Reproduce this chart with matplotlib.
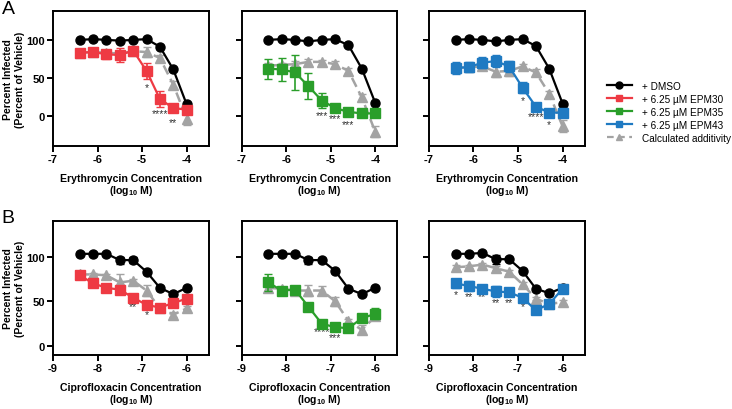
import numpy as np
import matplotlib
matplotlib.use("Agg")
import matplotlib.pyplot as plt

plt.rcParams['font.family'] = ['Liberation Sans', 'DejaVu Sans']
plt.rcParams['mathtext.fontset'] = 'custom'
plt.rcParams['mathtext.bf'] = 'Liberation Sans:bold'
plt.rcParams['mathtext.rm'] = 'Liberation Sans'
plt.rcParams['mathtext.default'] = 'bf'
plt.rcParams['axes.unicode_minus'] = False

# concentrations (log10 M)
ery_x = [-6.4, -6.1, -5.8, -5.5, -5.2, -4.9, -4.6, -4.3, -4.0]
cip_x = [-8.4, -8.1, -7.8, -7.5, -7.2, -6.9, -6.6, -6.3, -6.0]

# row A: erythromycin
a1_dmso = [100, 101, 100, 99, 100, 101, 91, 61, 15]
a1_drug = [83, 84, 81, 80, 86, 59, 22, 10, 8]
a1_drug_err = [5, 4, 6, 9, 4, 10, 10, 5, 5]
a1_add = [83, 84, 83, 82, 85, 84, 76, 41, -4]
a1_add_err = [3, 3, 3, 3, 3, 6, 4, 5, 8]
a1_stars = [(-4.9, '*'), (-4.6, '****'), (-4.3, '**')]
a1_star_y = [38, 4, -8]

a2_dmso = [100, 101, 100, 98, 100, 101, 93, 62, 17]
a2_drug = [62, 61, 57, 39, 20, 10, 5, 3, 3]
a2_drug_err = [13, 15, 23, 17, 10, 3, 2, 2, 3]
a2_add = [66, 67, 68, 71, 71, 68, 59, 24, -21]
a2_add_err = [3, 3, 4, 4, 3, 4, 4, 5, 7]
a2_stars = [(-5.2, '***'), (-4.9, '***'), (-4.6, '***')]
a2_star_y = [1, -3, -11]

a3_dmso = [100, 101, 100, 98, 100, 101, 92, 62, 16]
a3_drug = [63, 64, 70, 72, 65, 37, 12, 4, 4]
a3_drug_err = [8, 7, 7, 8, 7, 7, 3, 3, 3]
a3_add = [63, 64, 65, 58, 59, 65, 57, 29, -14]
a3_add_err = [3, 3, 4, 7, 6, 3, 4, 4, 8]
a3_stars = [(-4.9, '*'), (-4.6, '****'), (-4.3, '*')]
a3_star_y = [20, -1, -11]

# row B: ciprofloxacin
b1_dmso = [103, 103, 103, 96, 96, 83, 65, 58, 65]
b1_dmso_err = [2, 2, 2, 4, 3, 2, 2, 2, 2]
b1_drug = [79, 70, 65, 63, 54, 46, 43, 48, 53]
b1_drug_err = [2, 2, 2, 2, 2, 2, 2, 4, 4]
b1_add = [80, 80, 79, 71, 73, 62, 42, 35, 42]
b1_add_err = [2, 2, 2, 10, 2, 6, 2, 3, 3]
b1_stars = [(-7.2, '**'), (-6.9, '*')]
b1_star_y = [45, 36]

b2_dmso = [103, 103, 103, 96, 96, 84, 64, 58, 65]
b2_dmso_err = [2, 2, 2, 4, 2, 2, 2, 2, 2]
b2_drug = [71, 62, 63, 44, 25, 21, 20, 31, 36]
b2_drug_err = [9, 2, 4, 2, 2, 2, 2, 2, 6]
b2_add = [65, 64, 62, 62, 62, 50, 28, 18, 33]
b2_add_err = [4, 2, 3, 6, 5, 5, 2, 5, 4]
b2_stars = [(-7.2, '****'), (-6.9, '***')]
b2_star_y = [17, 10]

b3_dmso = [103, 103, 104, 97, 97, 84, 64, 59, 65]
b3_dmso_err = [2, 2, 2, 5, 2, 2, 2, 2, 2]
b3_drug = [70, 67, 64, 61, 60, 54, 40, 47, 64]
b3_drug_err = [5, 6, 3, 6, 3, 2, 2, 3, 3]
b3_add = [88, 89, 91, 87, 83, 69, 53, 47, 49]
b3_add_err = [2, 2, 2, 2, 2, 2, 2, 2, 2]
b3_stars = [(-8.4, '*'), (-8.1, '**'), (-7.8, '**'), (-7.5, '**'), (-7.2, '**'), (-6.9, '*')]
b3_star_y = [58, 56, 56, 49, 49, 45]

legend_labels = ['+ DMSO', '+ 6.25 \u00b5M EPM30', '+ 6.25 \u00b5M EPM35',
                 '+ 6.25 \u00b5M EPM43', 'Calculated additivity']

red = '#ee3a43'
green = '#2a9e2a'
blue = '#1f7ac2'
gray = '#a3a3a3'

fig = plt.figure(figsize=(7.32, 4.10), dpi=100)

lefts = [0.0724, 0.330, 0.586]
w = 0.213
rowA = [0.6415, 0.329]
rowB = [0.1317, 0.3276]


def panel(left, row, x, dmso, dmso_err, drug, drug_err, add, add_err, col,
          stars, star_y, xlim, ylim, xticks, xlabel, show_y):
    ax = fig.add_axes([left, row[0], w, row[1]])
    ax.errorbar(x, add, yerr=add_err, color=gray, ls='--', lw=1.8, marker='^',
                ms=6.5, capsize=3, elinewidth=1.2, dashes=(4, 2), zorder=2)
    ax.errorbar(x, dmso, yerr=dmso_err, color='black', lw=1.6, marker='o',
                ms=6.5, capsize=3, elinewidth=1.2, zorder=3)
    ax.errorbar(x, drug, yerr=drug_err, color=col, lw=1.6, marker='s',
                ms=6.5, capsize=3, elinewidth=1.2, zorder=4)
    for (sx, s), sy in zip(stars, star_y):
        ax.text(sx, sy, s, ha='center', va='center', fontsize=7.5, color='#333333')
    ax.set_xlim(xlim)
    ax.set_ylim(ylim)
    ax.set_xticks(xticks)
    ax.set_yticks([0, 50, 100])
    for sp in ax.spines.values():
        sp.set_linewidth(1.4)
    ax.tick_params(direction='out', length=4, width=1.4, labelsize=8, pad=2)
    for lab in ax.get_xticklabels() + ax.get_yticklabels():
        lab.set_fontweight('bold')
    if show_y:
        ax.set_ylabel('Percent Infected\n(Percent of Vehicle)', fontsize=7.5,
                      fontweight='bold', linespacing=1.3)
        ax.yaxis.set_label_coords(-0.18, 0.5)
    else:
        ax.set_yticklabels([])
    ax.set_xlabel(xlabel, fontsize=7.6, fontweight='bold', labelpad=6,
                  linespacing=1.05)
    return ax


ery_lab = 'Erythromycin Concentration\n(log$_{10}$ M)'
cip_lab = 'Ciprofloxacin Concentration\n(log$_{10}$ M)'
zero = [0] * 9

panel(lefts[0], rowA, ery_x, a1_dmso, zero, a1_drug, a1_drug_err, a1_add, a1_add_err,
      red, a1_stars, a1_star_y, (-7, -3.5), (-40, 138), [-7, -6, -5, -4], ery_lab, True)
panel(lefts[1], rowA, ery_x, a2_dmso, zero, a2_drug, a2_drug_err, a2_add, a2_add_err,
      green, a2_stars, a2_star_y, (-7, -3.5), (-40, 138), [-7, -6, -5, -4], ery_lab, False)
panel(lefts[2], rowA, ery_x, a3_dmso, zero, a3_drug, a3_drug_err, a3_add, a3_add_err,
      blue, a3_stars, a3_star_y, (-7, -3.5), (-40, 138), [-7, -6, -5, -4], ery_lab, False)

panel(lefts[0], rowB, cip_x, b1_dmso, b1_dmso_err, b1_drug, b1_drug_err, b1_add, b1_add_err,
      red, b1_stars, b1_star_y, (-9, -5.5), (-10, 140), [-9, -8, -7, -6], cip_lab, True)
panel(lefts[1], rowB, cip_x, b2_dmso, b2_dmso_err, b2_drug, b2_drug_err, b2_add, b2_add_err,
      green, b2_stars, b2_star_y, (-9, -5.5), (-10, 140), [-9, -8, -7, -6], cip_lab, False)
panel(lefts[2], rowB, cip_x, b3_dmso, b3_dmso_err, b3_drug, b3_drug_err, b3_add, b3_add_err,
      blue, b3_stars, b3_star_y, (-9, -5.5), (-10, 140), [-9, -8, -7, -6], cip_lab, False)

fig.text(0.002, 0.998, 'A', fontsize=14, va='top', ha='left')
fig.text(0.002, 0.488, 'B', fontsize=14, va='top', ha='left')

# legend
handles = [
    plt.Line2D([], [], color='black', marker='o', lw=1.6, ms=5),
    plt.Line2D([], [], color=red, marker='s', lw=1.6, ms=5),
    plt.Line2D([], [], color=green, marker='s', lw=1.6, ms=5),
    plt.Line2D([], [], color=blue, marker='s', lw=1.6, ms=5),
    plt.Line2D([], [], color=gray, marker='^', lw=1.6, ms=5, ls='--', dashes=(3, 2)),
]
fig.legend(handles, legend_labels, loc='center left', bbox_to_anchor=(0.829, 0.7256),
           frameon=False, fontsize=7.2, handlelength=2.5, handletextpad=1.0,
           labelspacing=0.3, borderaxespad=0, borderpad=0)

fig.savefig('out.png', dpi=100)
